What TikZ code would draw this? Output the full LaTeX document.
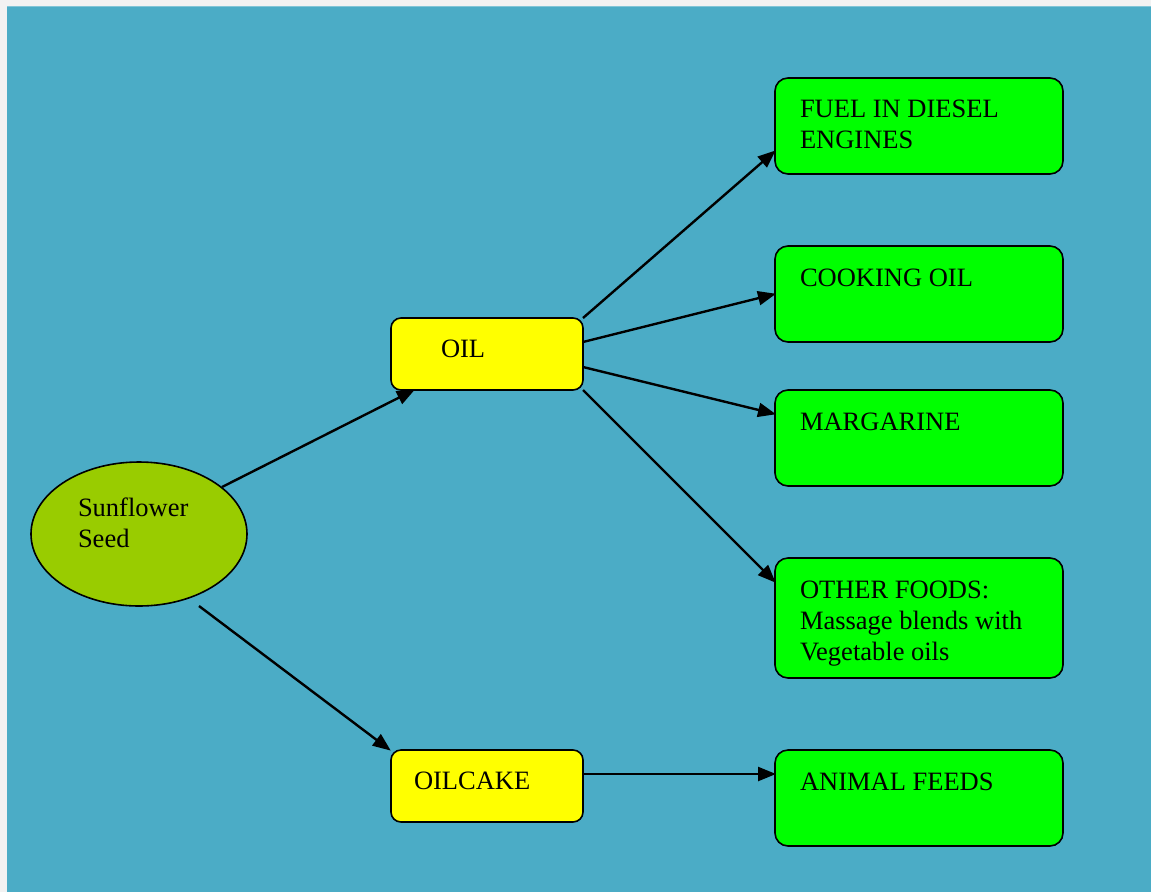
\documentclass[tikz,border=0pt]{standalone}
\usepackage{fontspec}
\setmainfont{Liberation Serif}
\usetikzlibrary{arrows.meta,shapes.geometric}
\definecolor{bgout}{HTML}{F2F2F2}
\definecolor{bgblue}{HTML}{4BACC6}
\definecolor{seedgreen}{HTML}{99CC00}
\definecolor{boxgreen}{HTML}{00FF00}
\definecolor{boxyellow}{HTML}{FFFF00}
\tikzset{
  every node/.style={inner sep=0pt, outer sep=0pt},
  ybox/.style={draw=black, line width=1.6pt, fill=boxyellow, rounded corners=10pt, minimum width=192pt, minimum height=72pt, anchor=north west},
  gbox/.style={draw=black, line width=1.6pt, fill=boxgreen, rounded corners=13pt, minimum width=288pt, anchor=north west},
  txt/.style={anchor=base west, font=\fontsize{26.5pt}{31pt}\selectfont, align=left, text=black},
  conn/.style={draw=black, line width=2.4pt, -{Triangle[length=18pt, width=14pt]}, shorten >=-1pt}
}
\begin{document}
\begin{tikzpicture}[x=1pt, y=-1pt]
\useasboundingbox (0,0) rectangle (1151,892);
\fill[bgout] (0,0) rectangle (1151,892);
\fill[bgblue] (7,6) rectangle (1151,892);
\draw[color=bgblue!70!white, line width=1.5pt] (7,6.5) -- (1151,6.5);
% nodes
\node[ellipse, draw=black, line width=1.6pt, fill=seedgreen, minimum width=216pt, minimum height=144pt] (seed) at (139,534) {};
\node[txt] (seedT) at (78,547) {Sunflower\\Seed};
\node[ybox] (oil) at (391,318) {};
\node[txt] (oilT) at (441,357) {OIL};
\node[ybox] (cake) at (391,750) {};
\node[txt] (cakeT) at (414,789) {OILCAKE};
\node[gbox, minimum height=96pt] (fuel) at (775,78) {};
\node[txt] (fuelT) at (800,148) {FUEL IN DIESEL\\ENGINES};
\node[gbox, minimum height=96pt] (cook) at (775,246) {};
\node[txt] (cookT) at (800,286) {COOKING OIL};
\node[gbox, minimum height=96pt] (marg) at (775,390) {};
\node[txt] (margT) at (800,430) {MARGARINE};
\node[gbox, minimum height=120pt] (other) at (775,558) {};
\node[txt] (otherT) at (800,660) {OTHER FOODS:\\Massage blends with\\Vegetable oils};
\node[gbox, minimum height=96pt] (feed) at (775,750) {};
\node[txt] (feedT) at (800,790) {ANIMAL FEEDS};
% connectors
\draw[conn] ([xshift=83pt,yshift=47pt]seed.center) -- ([xshift=23pt]oil.south west);
\draw[conn] ([xshift=60pt,yshift=-72pt]seed.center) -- ([xshift=-1pt]cake.north west);
\draw[conn] (oil.north east) -- ([yshift=-73pt]fuel.north west);
\draw[conn] ([yshift=-24pt]oil.north east) -- ([yshift=-48pt]cook.north west);
\draw[conn] ([yshift=-49pt]oil.north east) -- ([yshift=-24pt]marg.north west);
\draw[conn] (oil.south east) -- ([yshift=-24pt]other.north west);
\draw[conn] ([yshift=-24pt]cake.north east) -- ([yshift=-24pt]feed.north west);
\end{tikzpicture}
\end{document}
